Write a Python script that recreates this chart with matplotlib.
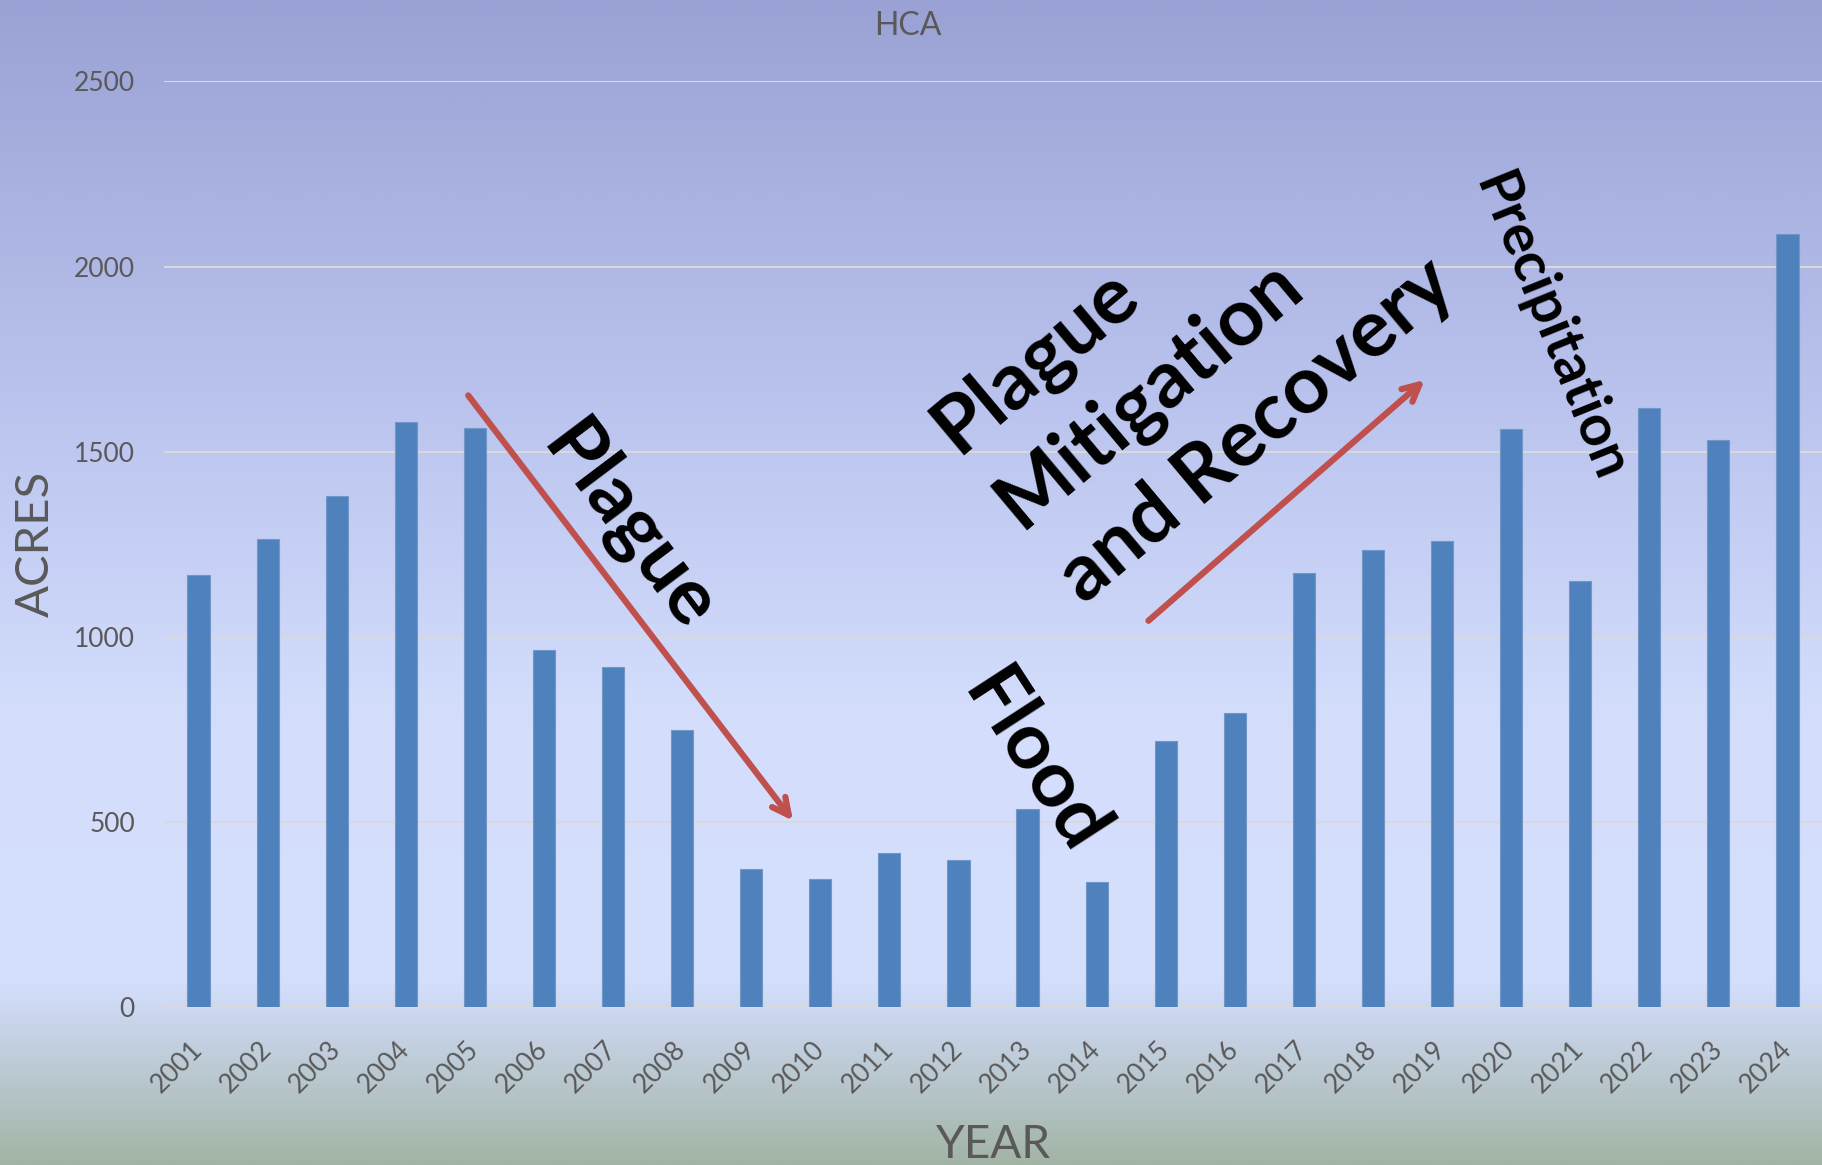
import numpy as np
import matplotlib.pyplot as plt
from matplotlib.colors import LinearSegmentedColormap

# chart data
years = ['2001', '2002', '2003', '2004', '2005', '2006', '2007', '2008',
         '2009', '2010', '2011', '2012', '2013', '2014', '2015', '2016',
         '2017', '2018', '2019', '2020', '2021', '2022', '2023', '2024']
acres = [1167, 1264, 1380, 1581, 1565, 966, 919, 750,
         373, 348, 417, 398, 536, 339, 718, 794,
         1173, 1236, 1258, 1562, 1151, 1619, 1531, 2089]
yticks = [0, 500, 1000, 1500, 2000, 2500]

plt.rcParams['font.family'] = ['Lato', 'DejaVu Sans']
grey = '#595959'
red = '#C0504D'

fig = plt.figure(figsize=(18.22, 11.65), dpi=100)

# background gradient (top blue -> light -> grey-green at the bottom)
bg = fig.add_axes([0, 0, 1, 1], zorder=0)
stops = [(0.00, '#9AA2D5'), (0.35, '#BBC4EE'), (0.62, '#D4DEFC'),
         (0.84, '#D5E0FD'), (0.87, '#CCD7F0'), (1.00, '#A2B4A5')]
cmap = LinearSegmentedColormap.from_list('bg', stops)
grad = np.linspace(0, 1, 512).reshape(-1, 1)
bg.imshow(grad, cmap=cmap, aspect='auto', extent=[0, 1, 0, 1])
bg.axis('off')

ax = fig.add_axes([0.09, 0.1352, 0.91, 0.795], zorder=1)
ax.patch.set_alpha(0)

x = np.arange(len(years))
ax.bar(x, acres, width=0.32, color='#4F81BD', edgecolor='#7097C8', linewidth=0.8, zorder=3)

ax.set_xlim(-0.5, len(years) - 0.5)
ax.set_ylim(0, 2500)
ax.set_yticks(yticks)
ax.set_xticks(x)
ax.set_xticklabels(years)
ax.grid(axis='y', color='#D9D9D9', linewidth=1.5, zorder=1)
ax.set_axisbelow(True)
for s in ['top', 'right', 'left']:
    ax.spines[s].set_visible(False)
ax.spines['bottom'].set_color('#D9D9D9')
ax.spines['bottom'].set_linewidth(1.5)
ax.tick_params(axis='both', length=0, labelsize=19, labelcolor=grey)
ax.tick_params(axis='y', pad=21)
ax.tick_params(axis='x', pad=27)
plt.setp(ax.get_xticklabels(), rotation=45, ha='right', va='center', rotation_mode='anchor')

ax.set_xlabel('YEAR', fontsize=33, color=grey, labelpad=19)
ax.set_ylabel('ACRES', fontsize=34, color=grey, labelpad=12)
fig.text(0.498, 0.978, 'HCA', ha='center', va='center', fontsize=23, color=grey)

# annotations
ax.annotate('', xy=(8.63, 498), xytext=(3.88, 1658),
            arrowprops=dict(arrowstyle='->,head_length=1.2,head_width=0.6', color=red, lw=4.5))
ax.annotate('', xy=(17.78, 1699), xytext=(13.72, 1039),
            arrowprops=dict(arrowstyle='->,head_length=1.2,head_width=0.6', color=red, lw=4.5))

ax.text(6.22, 1295, 'Plague', rotation=-53, rotation_mode='anchor', ha='center', va='center',
        fontsize=57, fontweight='bold', color='black', zorder=5)
ax.text(12.09, 662, 'Flood', rotation=-57, rotation_mode='anchor', ha='center', va='center',
        fontsize=57, fontweight='bold', color='black', zorder=5)
ax.text(14.40, 1760, 'Plague\nMitigation\nand Recovery', rotation=40, rotation_mode='anchor',
        ha='center', va='center', multialignment='left', linespacing=1.38,
        fontsize=58, fontweight='bold', color='black', zorder=5)
ax.text(19.56, 1836, 'Precipitation', rotation=-68, rotation_mode='anchor', ha='center', va='center',
        fontsize=41, fontweight='bold', color='black', zorder=5)

fig.savefig('out.png', dpi=100)
